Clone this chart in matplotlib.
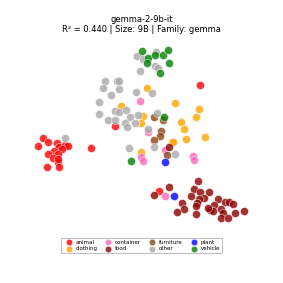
import matplotlib
matplotlib.use("Agg")
import matplotlib.pyplot as plt

# 2-D embedding coordinates per category (screen-like units, y grows downward)
animal_x = [43, 48, 38, 57, 59, 65, 68, 62, 54, 58, 48, 53, 58, 47, 59, 58, 91, 115, 200, 159]
animal_y = [138, 142, 146, 143, 147, 145, 146, 149, 151, 154, 154, 158, 162, 167, 167, 159, 148, 126, 85, 191]

clothing_x = [147, 175, 121, 143, 141, 141, 172, 199, 196, 181, 184, 186, 205, 173]
clothing_y = [88, 103, 106, 116, 123, 152, 142, 109, 117, 122, 129, 139, 137, 142]

container_x = [140, 148, 165, 141, 143, 193, 194, 165]
container_y = [101, 132, 150, 157, 161, 156, 160, 196]

food_x = [169, 154, 169, 198, 194, 200, 209, 204, 199, 191, 182, 197, 196, 184, 177, 196,
          218, 214, 210, 213, 221, 225, 229, 233, 223, 221, 228, 235, 244, 208]
food_y = [147, 195, 187, 181, 189, 192, 192, 198, 199, 196, 203, 203, 206, 209, 212, 214,
          199, 205, 210, 211, 209, 202, 202, 204, 213, 218, 218, 213, 211, 208]

furniture_x = [154, 161, 160, 154, 167, 163]
furniture_y = [117, 131, 136, 140, 155, 120]

other_x = [137, 143, 156, 155, 158, 140, 105, 117, 119, 103, 119, 111, 99, 136, 152,
           99, 115, 119, 126, 108, 115, 125, 127, 130, 135, 138, 157, 148, 154, 129, 175, 65]
other_y = [56, 59, 52, 66, 68, 71, 81, 81, 81, 88, 89, 95, 102, 92, 93,
           114, 111, 112, 110, 120, 120, 123, 127, 117, 123, 115, 113, 129, 147, 148, 154, 138]

plant_x = [165, 174]
plant_y = [162, 196]

vehicle_x = [142, 148, 155, 163, 168, 147, 169, 160, 164, 131]
vehicle_y = [51, 58, 55, 55, 50, 63, 63, 73, 117, 161]

categories = ["animal", "clothing", "container", "food", "furniture", "other", "plant", "vehicle"]
points = {
    "animal": (animal_x, animal_y),
    "clothing": (clothing_x, clothing_y),
    "container": (container_x, container_y),
    "food": (food_x, food_y),
    "furniture": (furniture_x, furniture_y),
    "other": (other_x, other_y),
    "plant": (plant_x, plant_y),
    "vehicle": (vehicle_x, vehicle_y),
}
colors = {
    "animal": "#ff0000",
    "clothing": "#ffa500",
    "container": "#ff69b4",
    "food": "#8b0000",
    "furniture": "#8b4513",
    "other": "#a9a9a9",
    "plant": "#0000ff",
    "vehicle": "#008000",
}

model_name = "gemma-2-9b-it"
r2 = 0.440
size = "9B"
family = "gemma"


def main() -> None:
    fig = plt.figure(figsize=(2.83, 2.83), dpi=100)
    ax = fig.add_axes([0, 0, 1, 1])

    for cat in categories:
        xs, ys = points[cat]
        ax.scatter(xs, ys, s=34, c=colors[cat], alpha=0.8, edgecolors="white",
                   linewidths=0.4, label=cat)

    ax.set_xlim(0, 283)
    ax.set_ylim(283, 0)
    ax.axis("off")

    fig.text(0.5, 1 - 20 / 283, model_name, ha="center", va="center", fontsize=6)
    fig.text(0.5, 1 - 29 / 283, f"R² = {r2:.3f} | Size: {size} | Family: {family}",
             ha="center", va="center", fontsize=6)

    leg = fig.legend(loc="center", bbox_to_anchor=(0.5, 1 - 245.5 / 283), ncol=4,
                     fontsize=4, frameon=True, fancybox=False, edgecolor="#888888",
                     handletextpad=0.2, columnspacing=1.0, borderpad=0.3,
                     labelspacing=0.25, markerscale=0.8)
    leg.get_frame().set_linewidth(0.5)

    fig.savefig("out.png", dpi=100)


if __name__ == "__main__":
    main()
